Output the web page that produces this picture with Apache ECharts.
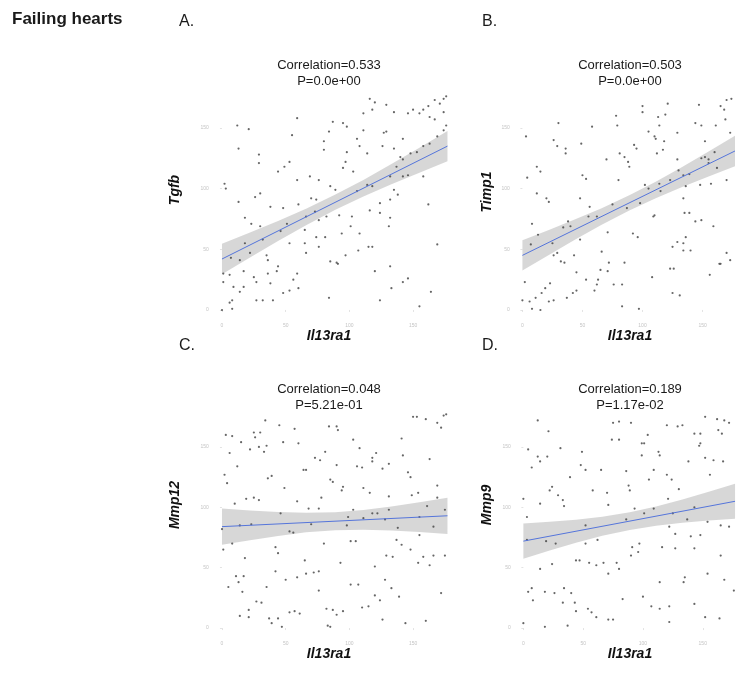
<!DOCTYPE html>
<html>
<head>
<meta charset="utf-8">
<script src="https://cdn.jsdelivr.net/npm/echarts@6/dist/echarts.min.js"></script>
<style>
  html, body { margin: 0; padding: 0; background: #fff; }
  #chart { width: 747px; height: 674px; }
</style>
</head>
<body>
<div id="chart"></div>
<script>
// rank of Il13ra1 (x) vs rank of each gene (y)
const tickValues = [0, 50, 100, 150];
const geneNames = ['Tgfb', 'Timp1', 'Mmp12', 'Mmp9'];
const panelLetters = ['A.', 'B.', 'C.', 'D.'];
const correlations = ['0.533', '0.503', '0.048', '0.189'];
const pValues = ['0.0e+00', '0.0e+00', '5.21e-01', '1.17e-02'];

const tgfbPoints = [[116,174],[120,171],[129,169],[135,163],[111,162],[118,165],[176,176],[174,174],[171,170],[167,173],[162,168],[158,165],[155,162],[150,165],[146,162],[163,159],[167,157],[174,163],[59,158],[87,155],[95,154],[98,151],[84,147],[111,148],[12,152],[21,149],[13,133],[55,144],[80,139],[80,132],[106,141],[108,135],[127,146],[129,147],[126,135],[142,141],[135,133],[114,129],[97,122],[95,117],[103,114],[98,130],[140,126],[174,148],[176,152],[169,143],[163,137],[158,135],[153,130],[148,129],[142,124],[137,118],[132,110],[142,110],[158,110],[146,111],[44,114],[49,118],[53,122],[29,128],[29,121],[2,104],[3,100],[26,93],[30,96],[13,89],[59,107],[69,110],[76,107],[85,102],[89,99],[70,92],[74,91],[106,98],[114,103],[118,102],[135,99],[138,95],[132,91],[124,88],[116,82],[124,80],[132,76],[131,69],[162,87],[169,54],[38,85],[48,84],[60,87],[66,77],[73,81],[76,74],[82,77],[92,78],[102,77],[101,69],[94,63],[108,63],[18,76],[30,69],[23,71],[46,65],[51,71],[53,55],[65,66],[74,60],[81,60],[65,55],[76,52],[66,47],[85,40],[90,39],[91,38],[97,45],[107,49],[115,52],[118,52],[35,45],[36,41],[18,55],[22,47],[14,41],[7,43],[32,58],[1,30],[6,29],[17,32],[25,27],[1,23],[9,19],[17,19],[14,15],[27,23],[38,22],[44,36],[43,32],[36,30],[59,30],[56,25],[60,18],[53,16],[48,14],[40,8],[32,8],[27,8],[8,8],[6,6],[0,0],[8,1],[84,10],[120,32],[132,36],[142,23],[146,26],[133,18],[124,8],[155,3],[164,15]];

const timp1Points = [[170,173],[174,174],[168,165],[165,168],[147,169],[121,170],[100,168],[100,163],[78,160],[113,159],[119,161],[114,152],[105,147],[110,143],[111,141],[118,139],[117,132],[129,146],[144,154],[149,152],[161,152],[152,139],[160,130],[155,124],[149,125],[169,157],[173,146],[30,154],[58,151],[79,152],[93,136],[95,133],[88,122],[85,126],[89,118],[81,129],[70,124],[49,137],[29,135],[26,140],[36,133],[36,129],[3,143],[12,118],[15,114],[4,109],[50,111],[53,108],[80,107],[129,124],[130,115],[134,111],[139,112],[152,126],[155,121],[162,117],[170,107],[157,104],[148,103],[136,102],[134,92],[123,107],[102,103],[105,100],[114,104],[115,98],[12,96],[20,92],[22,89],[48,92],[56,85],[62,77],[55,77],[38,73],[40,69],[8,71],[13,62],[7,54],[25,55],[29,47],[48,58],[71,64],[75,87],[87,84],[92,63],[96,60],[109,77],[110,78],[135,80],[139,80],[144,73],[149,74],[159,69],[136,60],[134,55],[129,56],[125,52],[134,49],[140,49],[123,34],[126,34],[108,27],[165,38],[173,41],[170,47],[32,40],[35,39],[43,45],[45,31],[53,25],[63,25],[65,33],[66,48],[71,32],[72,39],[76,21],[83,21],[85,39],[62,21],[60,16],[45,16],[42,14],[37,10],[23,22],[19,18],[16,14],[11,10],[6,7],[8,1],[15,0],[22,7],[26,8],[2,23],[0,8],[83,3],[97,1],[125,14],[131,12],[156,29],[164,38],[112,129],[98,88],[34,68],[26,45]];

const mmp12Points = [[34,172],[45,168],[57,165],[84,167],[90,167],[91,164],[3,160],[8,159],[25,162],[30,162],[26,158],[15,154],[48,154],[60,153],[22,148],[29,150],[35,151],[33,146],[6,145],[81,146],[73,141],[77,139],[90,135],[103,156],[108,149],[118,141],[118,138],[121,145],[106,134],[110,133],[131,136],[126,132],[142,143],[141,157],[150,175],[153,175],[160,173],[169,170],[172,166],[174,176],[176,177],[163,140],[146,129],[148,125],[169,118],[12,134],[2,127],[4,120],[36,124],[39,126],[49,116],[64,131],[66,131],[85,123],[87,121],[95,117],[94,114],[111,116],[116,112],[131,109],[149,110],[154,112],[169,108],[19,107],[25,108],[29,106],[10,103],[59,105],[68,99],[76,99],[78,108],[46,95],[103,98],[99,92],[111,91],[118,95],[122,95],[131,98],[128,90],[138,83],[155,92],[161,101],[166,84],[0,82],[14,85],[23,86],[53,80],[56,79],[70,86],[98,85],[8,70],[1,65],[42,67],[44,62],[80,70],[65,56],[93,54],[101,72],[105,72],[129,60],[134,59],[137,73],[141,69],[148,65],[155,77],[154,54],[158,59],[163,52],[166,60],[175,60],[18,58],[120,51],[35,34],[42,47],[50,40],[59,42],[66,45],[72,46],[76,47],[76,31],[101,36],[107,36],[120,27],[124,23],[128,40],[133,33],[139,26],[11,43],[13,38],[5,34],[17,43],[16,30],[27,22],[31,21],[21,15],[21,9],[37,8],[44,8],[39,4],[47,1],[53,13],[57,14],[61,12],[82,16],[87,15],[83,2],[85,1],[90,11],[95,14],[110,17],[115,18],[126,7],[144,4],[160,6],[172,29],[14,10],[175,98]];

const mmp9Points = [[12,172],[21,163],[75,170],[80,171],[74,156],[80,156],[90,170],[120,168],[129,167],[133,168],[152,175],[162,173],[168,172],[172,170],[163,164],[166,161],[148,161],[143,161],[147,151],[148,153],[99,153],[101,153],[104,160],[113,146],[114,143],[99,143],[138,138],[152,141],[159,139],[167,138],[156,127],[4,148],[12,142],[20,142],[14,138],[7,133],[31,149],[49,146],[48,135],[52,131],[65,131],[86,130],[109,131],[105,123],[120,127],[124,123],[130,115],[121,107],[39,125],[24,117],[22,114],[29,110],[33,106],[34,101],[0,107],[14,103],[58,114],[70,112],[88,118],[89,114],[93,99],[101,95],[109,99],[125,95],[143,100],[154,88],[165,85],[172,84],[137,90],[127,78],[122,84],[97,70],[91,67],[96,63],[116,67],[127,66],[143,66],[140,76],[148,77],[165,60],[3,92],[52,85],[62,73],[19,72],[27,70],[44,56],[47,56],[55,54],[61,52],[67,54],[71,45],[80,49],[78,54],[90,60],[14,49],[24,53],[135,42],[134,38],[114,38],[154,45],[168,40],[176,31],[7,33],[4,30],[8,23],[18,30],[26,29],[34,33],[43,21],[40,29],[33,21],[44,14],[54,16],[57,13],[61,9],[71,7],[75,7],[83,24],[100,26],[107,18],[114,16],[122,18],[122,5],[143,20],[152,9],[164,8],[0,4],[18,1],[37,2],[52,70],[71,102],[86,90],[3,73]];

// fitted line end points and confidence band
const fitLines = [
  [[0, 42], [177, 135]],
  [[0, 45], [177, 131]],
  [[0, 84], [177, 93]],
  [[0, 72], [177, 105]]
];
const bandX = [0, 22, 44, 66, 89, 111, 133, 155, 177];
const bandLow = [
  [29.5, 43.3, 56.8, 69.9, 82.5, 93.5, 103.6, 113.1, 122.5],
  [32.5, 45.4, 58.1, 70.3, 82, 92.1, 101.3, 110, 118.5],
  [69, 72.8, 76.3, 79.3, 81, 81.5, 80.9, 79.6, 78],
  [57.5, 64.2, 70.6, 76.4, 81.3, 84.8, 87.2, 89, 90.5]
];
const bandHigh = [
  [54.5, 63.9, 73.4, 83.5, 95.1, 107.1, 120.2, 133.7, 147.5],
  [57.5, 66, 74.7, 83.9, 94.6, 105.7, 117.9, 130.6, 143.5],
  [99, 97.4, 96.1, 95.5, 96, 97.7, 100.7, 104.2, 108],
  [86.5, 88, 89.8, 92.2, 95.9, 100.6, 106.4, 112.8, 119.5]
];
const allPoints = [tgfbPoints, timp1Points, mmp12Points, mmp9Points];

const FONT = '"Liberation Sans", Arial, sans-serif';

// layout of the four panels (pixels)
const panels = [
  { left: 211.8, top: 83, height: 236.7, statX: 329, statY: 57, letterX: 179, letterY: 14, nameX: 175, nameY: 190, xTitleY: 336 },
  { left: 512.8, top: 83, height: 236.7, statX: 630, statY: 57, letterX: 482, letterY: 14, nameX: 487, nameY: 192, xTitleY: 336 },
  { left: 211.8, top: 402.3, height: 235.4, statX: 329, statY: 381, letterX: 179, letterY: 338, nameX: 175, nameY: 505, xTitleY: 654 },
  { left: 513.8, top: 402.3, height: 235.4, statX: 630, statY: 381, letterX: 482, letterY: 338, nameX: 487, nameY: 505, xTitleY: 654 }
];

const chart = echarts.init(document.getElementById('chart'), null, { renderer: 'canvas' });

const grids = [], xAxes = [], yAxes = [], series = [], titles = [], graphics = [];

titles.push({
  text: 'Failing hearts', left: 12, top: 11, padding: 0,
  textStyle: { fontSize: 17, fontWeight: 'bold', color: '#1a1a1a', fontFamily: FONT }
});

panels.forEach((p, i) => {
  grids.push({ left: p.left, top: p.top, width: 248.4, height: p.height });

  const axisCommon = {
    gridIndex: i, type: 'value', min: -8, max: 187,
    axisLine: { show: false },
    splitLine: { show: false },
    axisTick: { show: true, customValues: tickValues, length: 2, lineStyle: { color: '#d0d0d0', width: 0.6 } },
    axisLabel: { customValues: tickValues, fontSize: 5, color: '#c4c4c4', margin: 3, fontFamily: FONT }
  };
  xAxes.push(Object.assign({}, axisCommon));
  yAxes.push(Object.assign({}, axisCommon));

  // confidence band
  series.push({
    type: 'custom', xAxisIndex: i, yAxisIndex: i, silent: true, z: 1,
    data: [[bandX[0], bandLow[i][0]]],
    renderItem: (params, api) => {
      const upper = bandX.map((x, k) => api.coord([x, bandHigh[i][k]]));
      const lower = bandX.map((x, k) => api.coord([x, bandLow[i][k]])).reverse();
      return {
        type: 'polygon',
        shape: { points: upper.concat(lower) },
        style: { fill: 'rgba(150,150,150,0.38)' }
      };
    }
  });

  // points
  series.push({
    type: 'scatter', xAxisIndex: i, yAxisIndex: i, z: 2,
    data: allPoints[i], symbolSize: 2.2,
    itemStyle: { color: '#404040' }
  });

  // fitted line
  series.push({
    type: 'line', xAxisIndex: i, yAxisIndex: i, z: 3,
    data: fitLines[i], showSymbol: false, silent: true,
    lineStyle: { color: '#5575db', width: 1 }
  });

  titles.push({
    text: panelLetters[i], left: p.letterX, top: p.letterY, padding: 0,
    textStyle: { fontSize: 16, fontWeight: 'normal', color: '#1a1a1a', fontFamily: FONT }
  });
  titles.push({
    text: 'Correlation=' + correlations[i] + '\nP=' + pValues[i],
    left: p.statX, top: p.statY, textAlign: 'center', padding: 0,
    textStyle: { fontSize: 13, lineHeight: 16, fontWeight: 'normal', color: '#1a1a1a', fontFamily: FONT }
  });

  graphics.push({
    type: 'text', x: p.nameX, y: p.nameY, rotation: Math.PI / 2,
    style: { text: geneNames[i], font: 'italic bold 14px ' + FONT, fill: '#111', align: 'center', verticalAlign: 'middle' }
  });
  graphics.push({
    type: 'text', x: p.statX, y: p.xTitleY,
    style: { text: 'Il13ra1', font: 'italic bold 14px ' + FONT, fill: '#111', align: 'center', verticalAlign: 'middle' }
  });
});

chart.setOption({
  animation: false,
  backgroundColor: '#fff',
  title: titles,
  grid: grids,
  xAxis: xAxes,
  yAxis: yAxes,
  series: series,
  graphic: graphics
});
</script>
</body>
</html>
